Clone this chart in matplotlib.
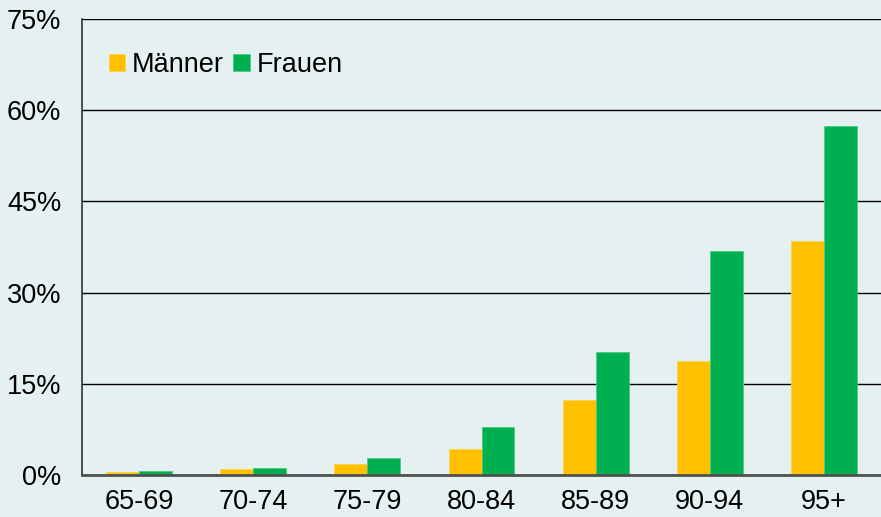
import numpy as np
import matplotlib.pyplot as plt

plt.rcParams['font.family'] = ['Liberation Sans', 'DejaVu Sans']

# Altersgruppen und Anteile in %
kategorien = ['65-69', '70-74', '75-79', '80-84', '85-89', '90-94', '95+']
maenner = [0.5, 1.0, 1.8, 4.3, 12.3, 18.8, 38.5]
frauen = [0.6, 1.15, 2.8, 7.9, 20.2, 36.8, 57.4]
yticks = [0, 15, 30, 45, 60, 75]

bg = '#e5f1f0'
fig = plt.figure(figsize=(8.81, 5.17), dpi=100, facecolor=bg)
ax = fig.add_axes([0.0931, 0.0812, 0.9069, 0.882], facecolor=bg)

x = np.arange(len(kategorien))
w = 0.289
ax.bar(x - w / 2, maenner, w, color='#ffc000', edgecolor='#ffd24d', linewidth=0.6, label='Männer', zorder=3)
ax.bar(x + w / 2, frauen, w, color='#00b050', edgecolor='#4dc885', linewidth=0.6, label='Frauen', zorder=3)

ax.set_xlim(-0.5, 6.5)
ax.set_ylim(0, 75)
ax.set_yticks(yticks)
ax.set_yticklabels([f'{v}%' for v in yticks])
ax.set_xticks(x)
ax.set_xticklabels(kategorien)
ax.tick_params(axis='y', length=0, pad=15, labelsize=19.5)
ax.tick_params(axis='x', length=0, pad=10, labelsize=19.5)

ax.yaxis.grid(True, color='black', linewidth=1.0, zorder=1)
ax.set_axisbelow(True)
for s in ['top', 'right']:
    ax.spines[s].set_visible(False)
ax.spines['left'].set_color('#404040')
ax.spines['left'].set_linewidth(1.3)
ax.spines['bottom'].set_color('#505050')
ax.spines['bottom'].set_linewidth(2)
ax.spines['bottom'].set_zorder(4)

ax.legend(loc='upper left', bbox_to_anchor=(0.02, 0.952), ncol=2, frameon=False,
          fontsize=19.5, handlelength=0.6, handleheight=0.6, handletextpad=0.25,
          columnspacing=0.35, borderaxespad=0)

fig.savefig('out.png', dpi=100, facecolor=bg)
